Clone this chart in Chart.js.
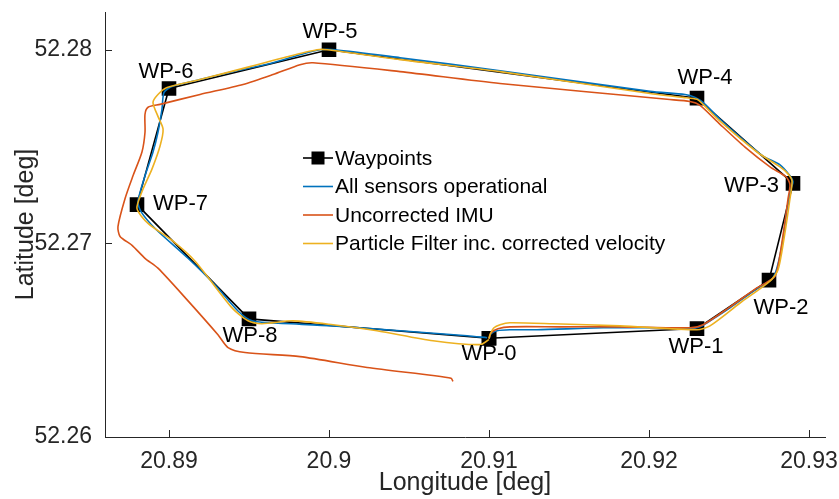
<!DOCTYPE html>
<html>
<head>
<meta charset="utf-8">
<title>Vehicle track</title>
<script src="https://cdn.jsdelivr.net/npm/chart.js@4.4.1/dist/chart.umd.min.js"></script>
<style>
  html, body { margin: 0; padding: 0; background: #fff; }
</style>
</head>
<body>
<canvas id="trackChart" width="839" height="499"></canvas>
<script>
// waypoints (loop is closed back to WP-0 when drawn)
const wpNames = ['WP-0', 'WP-1', 'WP-2', 'WP-3', 'WP-4', 'WP-5', 'WP-6', 'WP-7', 'WP-8'];
const wpLon = [20.91, 20.923, 20.9275, 20.929, 20.923, 20.9, 20.89, 20.888, 20.895];
const wpLat = [52.2651, 52.2656, 52.2681, 52.2731, 52.2775, 52.28, 52.278, 52.272, 52.2661];

// all sensors operational
const allLon = [20.91, 20.91013, 20.9105, 20.91131, 20.913, 20.91713, 20.92069, 20.92256, 20.92319, 20.92363,
  20.92506, 20.92663, 20.92731, 20.92775, 20.92806, 20.92838, 20.92863, 20.92888, 20.929, 20.92881,
  20.92819, 20.92713, 20.92569, 20.92444, 20.92338, 20.92288, 20.92225, 20.92006, 20.91069, 20.90444,
  20.90038, 20.89944, 20.89819, 20.8965, 20.894, 20.89194, 20.89019, 20.88969, 20.88956, 20.88931,
  20.889, 20.8885, 20.88806, 20.88825, 20.88913, 20.89119, 20.89288, 20.89431, 20.89519, 20.89631,
  20.90025, 20.90444, 20.90863, 20.90988];
const allLat = [52.26508, 52.26533, 52.26549, 52.26554, 52.26554, 52.26564, 52.26564, 52.26559, 52.26569, 52.2659,
  52.26667, 52.26759, 52.26795, 52.26821, 52.26892, 52.27026, 52.27179, 52.27282, 52.27318, 52.27349,
  52.27405, 52.27451, 52.27549, 52.27641, 52.27728, 52.27754, 52.27769, 52.27785, 52.27892, 52.27959,
  52.28, 52.28, 52.27974, 52.27933, 52.27887, 52.27846, 52.2781, 52.2778, 52.27692, 52.27574,
  52.27472, 52.27349, 52.27215, 52.27164, 52.27077, 52.26923, 52.26785, 52.26651, 52.266, 52.2659,
  52.26574, 52.26549, 52.26523, 52.26513];

// uncorrected IMU
const imuLon = [20.91, 20.91013, 20.91056, 20.91131, 20.91444, 20.91819, 20.92256, 20.92338, 20.92506, 20.92663,
  20.92738, 20.92788, 20.92813, 20.92844, 20.92869, 20.92881, 20.92856, 20.92756, 20.926, 20.92444,
  20.92319, 20.92256, 20.92113, 20.91069, 20.90444, 20.899, 20.89819, 20.8965, 20.89463, 20.89194,
  20.88944, 20.88869, 20.8885, 20.8885, 20.88831, 20.88775, 20.88725, 20.88681, 20.88694, 20.88769,
  20.8885, 20.88931, 20.89119, 20.89306, 20.89369, 20.89475, 20.89819, 20.90238, 20.9065, 20.90763,
  20.90775];
const imuLat = [52.26508, 52.26538, 52.26559, 52.26569, 52.26569, 52.26569, 52.26564, 52.2658, 52.26672, 52.26764,
  52.268, 52.26831, 52.26913, 52.27077, 52.27231, 52.27303, 52.27344, 52.27395, 52.27497, 52.27615,
  52.27713, 52.27733, 52.27744, 52.27826, 52.27887, 52.27933, 52.27923, 52.27872, 52.27821, 52.27769,
  52.27718, 52.27703, 52.27667, 52.27574, 52.27472, 52.27349, 52.27231, 52.27087, 52.27036, 52.2699,
  52.26923, 52.26872, 52.26703, 52.26528, 52.26462, 52.26436, 52.26415, 52.26359, 52.26318, 52.26303,
  52.26287];

// particle filter inc. corrected velocity
const pfLon = [20.91, 20.91006, 20.91031, 20.91069, 20.91131, 20.914, 20.91819, 20.923, 20.92381, 20.92569,
  20.92756, 20.92806, 20.92844, 20.92881, 20.92894, 20.92869, 20.92819, 20.92675, 20.92444, 20.92338,
  20.923, 20.92213, 20.92006, 20.91069, 20.90444, 20.89988, 20.89925, 20.89738, 20.89506, 20.89194,
  20.88988, 20.88931, 20.889, 20.88931, 20.88963, 20.88944, 20.88894, 20.88831, 20.888, 20.88869,
  20.89019, 20.89163, 20.89394, 20.89494, 20.89581, 20.89775, 20.90025, 20.903, 20.9065, 20.90944,
  20.91];
const pfLat = [52.26508, 52.26528, 52.26564, 52.2658, 52.2659, 52.26585, 52.26574, 52.26554, 52.26574, 52.26692,
  52.26805, 52.26862, 52.27026, 52.27231, 52.27323, 52.27359, 52.27395, 52.27472, 52.27631, 52.27718,
  52.27744, 52.27754, 52.27774, 52.27887, 52.27949, 52.28, 52.28, 52.27964, 52.27913, 52.27846,
  52.27805, 52.27769, 52.27728, 52.27656, 52.2759, 52.27503, 52.27385, 52.27267, 52.27179, 52.27103,
  52.27015, 52.26908, 52.26667, 52.266, 52.26585, 52.266, 52.2658, 52.26549, 52.26497, 52.26477,
  52.26503];

const lonTicks = [20.89, 20.9, 20.91, 20.92, 20.93];
const latTicks = [52.26, 52.27, 52.28];

const FONT = '"Liberation Sans", Arial, Helvetica, sans-serif';
const AXIS_GREY = '#262626';

Chart.defaults.font.family = FONT;

const toXY = (xs, ys) => xs.map((x, i) => ({ x: x, y: ys[i] }));

// MATLAB style ticks point into the plot area
const inwardTicks = {
  id: 'inwardTicks',
  afterDatasetsDraw(chart) {
    const { ctx, chartArea: a, scales: { x, y } } = chart;
    ctx.save();
    ctx.strokeStyle = AXIS_GREY;
    ctx.lineWidth = 1;
    ctx.beginPath();
    lonTicks.forEach(v => {
      const px = Math.round(x.getPixelForValue(v)) + 0.5;
      ctx.moveTo(px, a.bottom);
      ctx.lineTo(px, a.bottom - 7);
    });
    latTicks.forEach(v => {
      const py = Math.round(y.getPixelForValue(v)) + 0.5;
      ctx.moveTo(a.left, py);
      ctx.lineTo(a.left + 7, py);
    });
    ctx.stroke();
    ctx.restore();
  }
};

// text next to each waypoint: [dx, dy, align]
const wpLabelPlace = [
  [0, 16, 'center'], [-1, 18, 'center'], [12, 28, 'center'], [-14, 3, 'right'], [8, -20, 'center'],
  [1, -18, 'center'], [-3, -17, 'center'], [16, -1, 'left'], [1, 17, 'center']
];

const wpLabels = {
  id: 'wpLabels',
  afterDatasetsDraw(chart) {
    const { ctx, scales: { x, y } } = chart;
    ctx.save();
    ctx.font = '22px ' + FONT;
    ctx.fillStyle = '#000';
    ctx.textBaseline = 'middle';
    wpNames.forEach((name, i) => {
      const [dx, dy, align] = wpLabelPlace[i];
      ctx.textAlign = align;
      ctx.fillText(name, x.getPixelForValue(wpLon[i]) + dx, y.getPixelForValue(wpLat[i]) + dy);
    });
    ctx.restore();
  }
};

// legend drawn inside the axes, no frame
const insideLegend = {
  id: 'insideLegend',
  afterDraw(chart) {
    const { ctx } = chart;
    const x0 = 303, x1 = 333, top = 158, step = 28.5;
    ctx.save();
    ctx.font = '21px ' + FONT;
    ctx.textBaseline = 'middle';
    ctx.textAlign = 'left';
    chart.data.datasets.forEach((ds, i) => {
      const yy = top + i * step;
      ctx.strokeStyle = ds.borderColor;
      ctx.lineWidth = ds.borderWidth;
      ctx.beginPath();
      ctx.moveTo(x0, yy);
      ctx.lineTo(x1, yy);
      ctx.stroke();
      if (ds.pointRadius > 0) {
        ctx.fillStyle = ds.backgroundColor;
        ctx.fillRect((x0 + x1) / 2 - 6.5, yy - 6.5, 13, 13);
      }
      ctx.fillStyle = '#000';
      ctx.fillText(ds.label, x1 + 2, yy + 1);
    });
    ctx.restore();
  }
};

const tickLabel = v => String(+Number(v).toFixed(4));

new Chart(document.getElementById('trackChart'), {
  type: 'scatter',
  data: {
    datasets: [
      {
        label: 'Waypoints',
        data: toXY(wpLon.concat(wpLon[0]), wpLat.concat(wpLat[0])),
        showLine: true, borderColor: '#000000', backgroundColor: '#000000',
        borderWidth: 1.6, pointStyle: 'rect', pointRadius: 9.2, tension: 0, order: 4
      },
      {
        label: 'All sensors operational',
        data: toXY(allLon, allLat),
        showLine: true, borderColor: '#0072BD', backgroundColor: '#0072BD',
        borderWidth: 1.6, pointRadius: 0, tension: 0.25, order: 3
      },
      {
        label: 'Uncorrected IMU',
        data: toXY(imuLon, imuLat),
        showLine: true, borderColor: '#D95319', backgroundColor: '#D95319',
        borderWidth: 1.6, pointRadius: 0, tension: 0.25, order: 2
      },
      {
        label: 'Particle Filter inc. corrected velocity',
        data: toXY(pfLon, pfLat),
        showLine: true, borderColor: '#EDB120', backgroundColor: '#EDB120',
        borderWidth: 1.6, pointRadius: 0, tension: 0.25, order: 1
      }
    ]
  },
  options: {
    responsive: false,
    animation: false,
    events: [],
    devicePixelRatio: 1,
    layout: { padding: { left: 0, top: 12, right: 14, bottom: 0 } },
    plugins: { legend: { display: false }, tooltip: { enabled: false } },
    scales: {
      x: {
        type: 'linear', min: 20.886, max: 20.931,
        grid: { display: false, drawTicks: false },
        border: { display: true, color: AXIS_GREY, width: 1 },
        ticks: { color: AXIS_GREY, font: { size: 23 }, padding: 11, maxRotation: 0, callback: tickLabel },
        afterBuildTicks: s => { s.ticks = lonTicks.map(v => ({ value: v })); },
        afterFit: s => { s.height = 62; s.paddingLeft = 0; s.paddingRight = 0; },
        title: { display: true, text: 'Longitude [deg]', color: AXIS_GREY, font: { size: 25 }, padding: { top: 0, bottom: 1 } }
      },
      y: {
        type: 'linear', min: 52.26, max: 52.28195,
        grid: { display: false, drawTicks: false },
        border: { display: true, color: AXIS_GREY, width: 1 },
        ticks: { color: AXIS_GREY, font: { size: 23 }, padding: 13, callback: tickLabel },
        afterBuildTicks: s => { s.ticks = latTicks.map(v => ({ value: v })); },
        afterFit: s => { s.width = 105; s.paddingTop = 0; s.paddingBottom = 0; },
        title: { display: true, text: 'Latitude [deg]', color: AXIS_GREY, font: { size: 25 }, padding: { top: 11, bottom: 0 } }
      }
    }
  },
  plugins: [inwardTicks, wpLabels, insideLegend]
});
</script>
</body>
</html>
